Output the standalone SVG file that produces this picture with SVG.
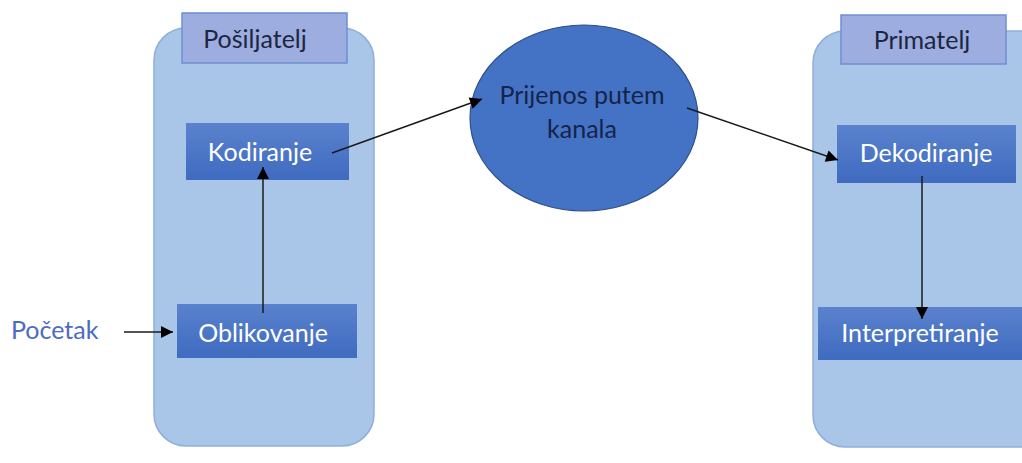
<svg xmlns="http://www.w3.org/2000/svg" width="1022" height="463" viewBox="0 0 1022 463">
<style>
.cont{fill:#a9c6e8;stroke:#8eaedb;stroke-width:1.5}
.hdr{fill:#9dade0;stroke:#6e8fd2;stroke-width:1.5}
.box{fill:url(#bg)}
.t{font-family:Lato,"Open Sans",sans-serif;font-size:25px;text-anchor:middle}
.w{fill:#ffffff}
.d{fill:#1c2640}
.e{fill:#15244a}
.c{fill:none;stroke:#1a1a1a;stroke-width:1.5}
</style>
<defs>
<linearGradient id="bg" x1="0" y1="0" x2="0" y2="1">
<stop offset="0" stop-color="#5a82cd"/>
<stop offset="1" stop-color="#3f6bc0"/>
</linearGradient>
<marker id="ah" viewBox="0 0 10 10" refX="10" refY="5" markerWidth="13" markerHeight="12" markerUnits="userSpaceOnUse" orient="auto">
<path d="M0,0 L10,5 L0,10 z" fill="#000"/>
</marker>
</defs>
<g id="posiljatelj">
<rect class="cont" x="154" y="28" width="220" height="418" rx="32"/>
<rect class="hdr" x="182" y="13" width="165" height="50"/>
<text class="t d" x="255" y="48">Pošiljatelj</text>
</g>
<g id="primatelj">
<rect class="cont" x="813" y="31" width="240" height="416" rx="32"/>
<rect class="hdr" x="841" y="15" width="165" height="49"/>
<text class="t d" x="922" y="49">Primatelj</text>
</g>
<g id="pocetak">
<text x="11" y="339" style="font-family:Lato,'Open Sans',sans-serif;font-size:25px;fill:#4d6cbf">Početak</text>
</g>
<g id="kodiranje">
<rect class="box" x="186" y="123" width="163" height="57"/>
<text class="t w" x="260" y="161">Kodiranje</text>
</g>
<g id="oblikovanje">
<rect class="box" x="177" y="304" width="180" height="54"/>
<text class="t w" x="263" y="342">Oblikovanje</text>
</g>
<g id="kanal">
<ellipse cx="584" cy="118" rx="114" ry="93" fill="#4472c4" stroke="#2f4f8a" stroke-width="1.2"/>
<text class="t e" x="582" y="104">Prijenos putem</text>
<text class="t e" x="582" y="138">kanala</text>
</g>
<g id="dekodiranje">
<rect class="box" x="837" y="125" width="179" height="58"/>
<text class="t w" x="926" y="162">Dekodiranje</text>
</g>
<g id="interpretiranje">
<rect class="box" x="818" y="307" width="210" height="53"/>
<text class="t w" x="920" y="342">Interpretiranje</text>
</g>
<g id="connectors">
<line class="c" x1="124" y1="332" x2="173" y2="332" marker-end="url(#ah)"/>
<line class="c" x1="263" y1="313" x2="263" y2="167" marker-end="url(#ah)"/>
<line class="c" x1="332" y1="153" x2="482" y2="99" marker-end="url(#ah)"/>
<line class="c" x1="687" y1="108" x2="838" y2="160" marker-end="url(#ah)"/>
<line class="c" x1="922" y1="176" x2="922" y2="319" marker-end="url(#ah)"/>
</g>
</svg>
